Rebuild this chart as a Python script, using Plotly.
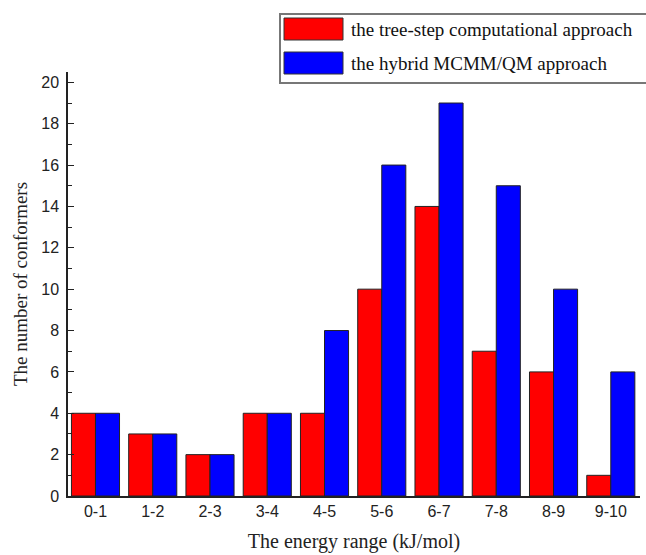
import plotly.graph_objects as go

categories = ["0-1", "1-2", "2-3", "3-4", "4-5", "5-6", "6-7", "7-8", "8-9", "9-10"]
tree_step = [4, 3, 2, 4, 4, 10, 14, 7, 6, 1]
hybrid = [4, 3, 2, 4, 8, 16, 19, 15, 10, 6]
series_names = ["the tree-step computational approach", "the hybrid MCMM/QM approach"]
series_colors = ["#ff0000", "#0000ff"]

W, H = 646, 555
L, R, T, B = 68, 6, 72, 59
pw, ph = W - L - R, H - T - B


def px(x):
    return (x - L) / pw


def py(y):
    return (H - B - y) / ph


fig = go.Figure()
for vals, name, col in zip([tree_step, hybrid], series_names, series_colors):
    fig.add_trace(go.Bar(x=categories, y=vals, name=name, showlegend=False,
                         marker=dict(color=col, line=dict(color="#222222", width=1))))

# custom legend (box, swatches, labels)
shapes = [dict(type="rect", xref="paper", yref="paper",
               x0=px(280), x1=px(650), y0=py(83), y1=py(14),
               line=dict(color="#777777", width=2), fillcolor="white", layer="above")]
annotations = []
for i, (name, col) in enumerate(zip(series_names, series_colors)):
    top = 18 + i * 34
    shapes.append(dict(type="rect", xref="paper", yref="paper",
                       x0=px(284), x1=px(343), y0=py(top + 22), y1=py(top),
                       line=dict(color="#333333", width=1), fillcolor=col, layer="above"))
    annotations.append(dict(xref="paper", yref="paper", x=px(349), y=py(top + 11),
                            xanchor="left", yanchor="middle", showarrow=False, text=name,
                            font=dict(family="Liberation Serif, Times New Roman", size=19,
                                      color="#111111")))

fig.update_layout(
    width=W, height=H,
    margin=dict(l=L, r=R, t=T, b=B, autoexpand=False),
    plot_bgcolor="white", paper_bgcolor="white",
    barmode="group", bargap=0.16, bargroupgap=0,
    font=dict(family="Liberation Sans, Arial", size=15, color="#222222"),
    showlegend=False,
    shapes=shapes, annotations=annotations,
    xaxis=dict(range=[-0.48, 9.51], showline=True, linecolor="#222222", linewidth=1.5,
               ticks="", showgrid=False, tickfont=dict(size=16), automargin=False,
               title=dict(text="The energy range (kJ/mol)",
                          font=dict(family="Liberation Serif, Times New Roman", size=20),
                          standoff=15)),
    yaxis=dict(range=[0, 20.5], showline=True, linecolor="#222222", linewidth=1.5,
               ticks="inside", ticklen=6, tickcolor="#222222", dtick=2,
               minor=dict(ticks="inside", ticklen=4, dtick=1, tickcolor="#222222"),
               showgrid=False, zeroline=False, tickfont=dict(size=16), automargin=False,
               ticklabelstandoff=4,
               title=dict(text="The number of conformers",
                          font=dict(family="Liberation Serif, Times New Roman", size=19),
                          standoff=9)),
)

fig.write_html("out.html", config={"displayModeBar": False},
               post_script="document.body.style.margin='0';document.body.style.padding='0';")
